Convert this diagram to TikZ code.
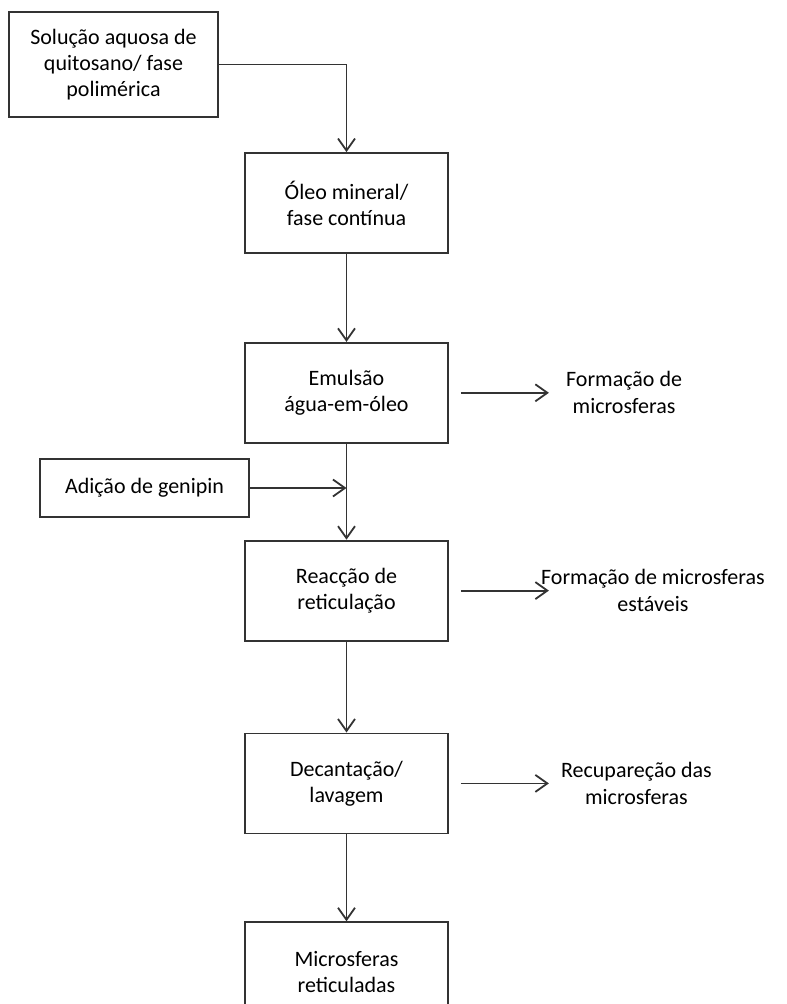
\documentclass[tikz,border=0pt]{standalone}
\usepackage{fontspec}
\setmainfont{Carlito}
\usepackage{tikz}
\usetikzlibrary{arrows.meta,positioning}

\begin{document}
\begin{tikzpicture}[x=1pt, y=-1pt,
    block/.style={draw=black!80, line width=1.8pt, minimum width=203pt,
                  minimum height=100pt, align=center, font=\fontsize{22}{26}\selectfont},
    side/.style={inner sep=0pt, align=center, font=\fontsize{22}{27}\selectfont},
    arr/.style={-{Straight Barb[length=12pt, width=17pt]}, line width=1.8pt, draw=black!80}
  ]
    \useasboundingbox (0,0) rectangle (787,1004);

    \node[block, minimum width=209pt, minimum height=105pt] (sol) at (113.5,64.5)
        {Solução aquosa de\\quitosano/ fase\\polimérica};
    \node[block] (oleo) at (346.5,203) {Óleo mineral/\\fase contínua};
    \node[block, below=88pt of oleo]    (emul)   {Emulsão\\água-em-óleo};
    \node[block, below=96pt of emul]    (reac)   {Reacção de\\reticulação};
    \node[block, below=91pt of reac]    (decant) {Decantação/\\lavagem};
    \node[block, below=87pt of decant]  (micro)  {Microsferas\\reticuladas};
    \node[block, minimum width=209pt, minimum height=58pt] (adic) at (144.5,488)
        {Adição de genipin};

    \node[side, right=117pt of emul]   (form1) {Formação de\\microsferas};
    \node[side, right=92pt of reac]    (form2) {Formação de microsferas\\estáveis};
    \node[side, right=112pt of decant] (recup) {Recupareção das\\microsferas};

    % saidas laterais
    \coordinate[right=100pt of emul]   (e1);
    \coordinate[right=100pt of reac]   (e2);
    \coordinate[right=100pt of decant] (e3);
    \coordinate (junc) at (emul.south |- adic.east);

    \draw[arr] (sol) -| (oleo);
    \draw[arr] (oleo) -- (emul);
    \draw[arr] (emul) -- (reac);
    \draw[arr] (adic) -- (junc);
    \draw[arr] (reac) -- (decant);
    \draw[arr] (decant) -- (micro);
    \draw[arr, shorten <=12pt] (emul) -- (e1);
    \draw[arr, shorten <=12pt] (reac) -- (e2);
    \draw[arr, shorten <=12pt] (decant) -- (e3);
\end{tikzpicture}
\end{document}
